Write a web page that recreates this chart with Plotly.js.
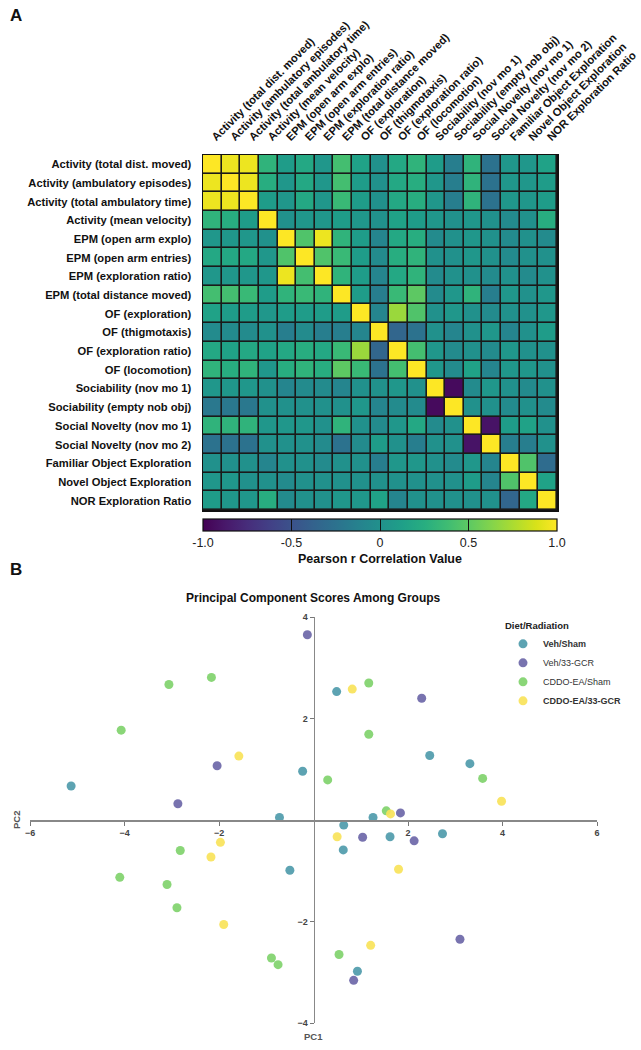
<!DOCTYPE html>
<html>
<head>
<meta charset="utf-8">
<script src="https://cdn.plot.ly/plotly-3.0.1.min.js"></script>
<style>
  html, body { margin: 0; padding: 0; background: #fff; }
  #chart { width: 641px; height: 1050px; }
</style>
</head>
<body>
<div id="chart"></div>
<script>
// behaviour measures (rows / columns of the correlation matrix)
const measures = [
    "Activity (total dist. moved)",
    "Activity (ambulatory episodes)",
    "Activity (total ambulatory time)",
    "Activity (mean velocity)",
    "EPM (open arm explo)",
    "EPM (open arm entries)",
    "EPM (exploration ratio)",
    "EPM (total distance moved)",
    "OF (exploration)",
    "OF (thigmotaxis)",
    "OF (exploration ratio)",
    "OF (locomotion)",
    "Sociability (nov mo 1)",
    "Sociability (empty nob obj)",
    "Social Novelty (nov mo 1)",
    "Social Novelty (nov mo 2)",
    "Familiar Object Exploration",
    "Novel Object Exploration",
    "NOR Exploration Ratio"
];

// Pearson r (row = y label, top to bottom)
const corrValues = [
    [1, 0.95, 0.95, 0.3, 0.1, 0.2, 0.05, 0.4, 0.15, 0.0, 0.2, 0.3, 0.1, -0.15, 0.3, -0.25, 0.05, 0.05, 0.15],
    [0.95, 1, 0.95, 0.25, 0.05, 0.2, 0.05, 0.4, 0.1, 0.0, 0.2, 0.25, 0.05, -0.15, 0.3, -0.25, 0.05, 0.05, 0.1],
    [0.95, 0.95, 1, 0.1, 0.05, 0.2, 0.05, 0.35, 0.1, 0.0, 0.2, 0.25, 0.05, -0.15, 0.3, -0.25, 0.05, 0.05, 0.1],
    [0.3, 0.25, 0.1, 1, 0.0, 0.05, 0.05, 0.1, 0.05, 0.0, 0.15, 0.1, 0.05, 0.0, 0.05, 0.0, -0.05, 0.0, 0.25],
    [0.05, 0.05, 0.05, 0.0, 1, 0.45, 0.95, 0.3, 0.1, -0.1, 0.2, 0.25, -0.05, 0.0, 0.05, 0.0, -0.05, 0.0, -0.05],
    [0.2, 0.2, 0.2, 0.05, 0.45, 1, 0.45, 0.35, 0.1, -0.05, 0.25, 0.3, 0.0, 0.0, 0.05, 0.0, -0.05, 0.0, 0.0],
    [0.05, 0.05, 0.05, 0.05, 0.95, 0.4, 1, 0.3, 0.1, -0.1, 0.2, 0.3, -0.05, 0.0, 0.0, -0.05, 0.0, -0.05, 0.0],
    [0.4, 0.4, 0.35, 0.1, 0.3, 0.35, 0.3, 1, 0.1, -0.15, 0.35, 0.5, -0.05, 0.05, 0.3, -0.15, 0.05, 0.0, 0.05],
    [0.15, 0.1, 0.1, 0.05, 0.1, 0.1, 0.1, 0.1, 1, -0.1, 0.7, 0.45, 0.0, 0.05, 0.0, -0.05, 0.0, 0.0, 0.05],
    [-0.05, -0.05, -0.05, 0.0, -0.15, -0.05, -0.15, -0.15, -0.1, 1, -0.35, -0.25, 0.0, -0.1, 0.0, 0.05, -0.1, 0.0, 0.1],
    [0.2, 0.15, 0.2, 0.15, 0.2, 0.25, 0.2, 0.35, 0.7, -0.35, 1, 0.4, 0.05, -0.05, 0.0, -0.05, 0.05, 0.0, 0.0],
    [0.3, 0.25, 0.3, 0.05, 0.25, 0.3, 0.25, 0.5, 0.35, -0.25, 0.4, 1, 0.05, -0.05, 0.15, -0.1, 0.05, 0.05, 0.0],
    [0.05, 0.05, 0.05, 0.0, -0.1, -0.05, -0.05, -0.1, 0.0, 0.0, 0.05, 0.0, 1, -0.95, -0.05, 0.05, 0.0, -0.05, 0.0],
    [-0.2, -0.2, -0.2, 0.0, 0.0, 0.0, 0.0, 0.0, 0.05, -0.1, -0.05, -0.05, -0.95, 1, 0.0, 0.0, -0.05, 0.0, -0.05],
    [0.3, 0.3, 0.3, 0.05, 0.05, 0.05, 0.0, 0.3, 0.0, -0.05, 0.05, 0.2, -0.05, 0.0, 1, -0.9, 0.1, 0.15, 0.0],
    [-0.25, -0.25, -0.25, 0.0, 0.0, 0.0, -0.05, -0.25, -0.05, 0.1, 0.0, -0.15, 0.0, 0.0, -0.9, 1, -0.15, -0.15, 0.0],
    [0.0, 0.0, 0.0, -0.1, 0.0, 0.0, -0.05, 0.0, 0.0, -0.15, 0.05, 0.05, 0.0, -0.05, 0.05, -0.1, 1, 0.45, -0.3],
    [0.05, 0.05, 0.0, 0.0, -0.05, 0.0, 0.0, 0.0, 0.0, 0.0, 0.0, 0.0, 0.0, 0.0, 0.1, -0.1, 0.45, 1, 0.15],
    [0.1, 0.05, 0.05, 0.25, -0.05, 0.0, 0.0, 0.05, 0.05, 0.15, -0.1, 0.0, 0.0, 0.0, 0.0, 0.0, -0.35, 0.2, 1]
];

const cbTicks = [-1, -0.5, 0, 0.5, 1];
const cbTickText = ["-1.0", "-0.5", "0", "0.5", "1.0"];

// PCA scores per group
const groupNames = ["Veh/Sham", "Veh/33-GCR", "CDDO-EA/Sham", "CDDO-EA/33-GCR"];

const vehShamPC1 = [-5.13, -0.72, -0.23, 0.49, 2.46, 3.31, 1.26, 0.64, 1.62, 2.73, 0.63, 0.93, -0.50];
const vehShamPC2 = [0.67, 0.05, 0.96, 2.53, 1.27, 1.11, 0.05, -0.10, -0.33, -0.27, -0.59, -2.98, -0.99];

const vehGcrPC1 = [-0.13, -2.04, -2.87, 2.29, 1.84, 1.04, 2.13, 3.10, 0.85];
const vehGcrPC2 = [3.65, 1.07, 0.32, 2.40, 0.14, -0.34, -0.41, -2.35, -3.16];

const cddoShamPC1 = [-3.06, -2.16, -4.07, 0.30, 1.17, 1.17, 3.58, 1.54, 0.54, -2.82, -4.10, -3.10, -2.89, -0.89, -0.75];
const cddoShamPC2 = [2.67, 2.81, 1.77, 0.79, 2.70, 1.69, 0.82, 0.18, -2.65, -0.60, -1.13, -1.27, -1.73, -2.72, -2.85];

const cddoGcrPC1 = [-1.58, 0.82, 3.98, 1.63, 0.50, 1.80, 1.21, -1.97, -2.17, -1.90];
const cddoGcrPC2 = [1.26, 2.58, 0.37, 0.12, -0.33, -0.97, -2.47, -0.44, -0.73, -2.06];

const pcTicksX = [-6, -4, -2, 2, 4, 6];
const pcTicksY = [-4, -2, 2, 4];

const groupColors = ["#4f9bab", "#6c67a8", "#80d26c", "#f9e35a"];
const FONT = "Arial, 'Liberation Sans', Helvetica, sans-serif";

const W = 641, H = 1050;
const px = v => v / W;
const py = v => 1 - v / H;

// heatmap box in pixels
const hmLeft = 203, hmRight = 557, hmTop = 155, hmBottom = 510;
// scatter box in pixels
const scLeft = 30, scRight = 597, scTop = 617, scBottom = 1023;

const heat = {
    type: "heatmap",
    x: measures,
    y: measures,
    z: corrValues,
    zmin: -1,
    zmax: 1,
    colorscale: "Viridis",
    xgap: 1.6,
    ygap: 1.6,
    hoverinfo: "skip",
    xaxis: "x",
    yaxis: "y",
    colorbar: {
        orientation: "h",
        x: px((hmLeft + hmRight) / 2),
        xanchor: "center",
        y: py(519),
        yanchor: "top",
        len: (hmRight - hmLeft) / W,
        lenmode: "fraction",
        thickness: 12,
        xpad: 0,
        ypad: 0,
        outlinewidth: 1.2,
        outlinecolor: "#111",
        ticks: "inside",
        ticklen: 12,
        tickwidth: 1,
        tickcolor: "#111",
        tickmode: "array",
        tickvals: cbTicks,
        ticktext: cbTickText,
        tickfont: { family: FONT, size: 12.5, color: "#222" },
        title: {
            text: "Pearson r Correlation Value",
            side: "bottom",
            font: { family: FONT, size: 12.5, color: "#111", weight: "bold" }
        }
    }
};

function group(i, xs, ys) {
    return {
        type: "scatter",
        mode: "markers",
        name: (i === 0 || i === 3) ? "<b>" + groupNames[i] + "</b>" : groupNames[i],
        x: xs,
        y: ys,
        xaxis: "x2",
        yaxis: "y2",
        marker: { size: 9, color: groupColors[i], opacity: 0.92 },
        hoverinfo: "skip"
    };
}

const traces = [
    heat,
    group(0, vehShamPC1, vehShamPC2),
    group(1, vehGcrPC1, vehGcrPC2),
    group(2, cddoShamPC1, cddoShamPC2),
    group(3, cddoGcrPC1, cddoGcrPC2)
];

const scYDom = [py(scBottom), py(scTop)];
const scXDom = [px(scLeft), px(scRight)];

const layout = {
    width: W,
    height: H,
    margin: { l: 0, r: 0, t: 0, b: 0 },
    paper_bgcolor: "#fff",
    plot_bgcolor: "rgba(0,0,0,0)",
    font: { family: FONT, color: "#111" },
    showlegend: true,
    xaxis: {
        domain: [px(hmLeft), px(hmRight)],
        anchor: "y",
        side: "top",
        type: "category",
        tickmode: "array",
        tickvals: measures,
        ticktext: measures,
        tickangle: -45,
        ticks: "",
        ticklabelstandoff: 6,
        tickfont: { family: FONT, size: 11.2, color: "#111", weight: "bold" },
        showgrid: false,
        zeroline: false,
        showline: true,
        mirror: true,
        linecolor: "#111",
        linewidth: 1.5
    },
    yaxis: {
        domain: [py(hmBottom), py(hmTop)],
        anchor: "x",
        type: "category",
        autorange: "reversed",
        tickmode: "array",
        tickvals: measures,
        ticktext: measures,
        ticks: "",
        ticklabelstandoff: 8,
        tickfont: { family: FONT, size: 11.2, color: "#111", weight: "bold" },
        showgrid: false,
        zeroline: false,
        showline: true,
        mirror: true,
        linecolor: "#111",
        linewidth: 1.5
    },
    xaxis2: {
        domain: scXDom,
        anchor: "free",
        position: (scYDom[0] + scYDom[1]) / 2,
        range: [-6, 6],
        tickmode: "array",
        tickvals: pcTicksX,
        ticks: "outside",
        ticklen: 4,
        tickcolor: "#777",
        tickfont: { family: FONT, size: 9, color: "#444", weight: "bold" },
        showgrid: false,
        zeroline: false,
        showline: true,
        linecolor: "#888",
        linewidth: 1.5
    },
    yaxis2: {
        domain: scYDom,
        anchor: "free",
        position: (scXDom[0] + scXDom[1]) / 2,
        range: [-4, 4],
        tickmode: "array",
        tickvals: pcTicksY,
        ticks: "outside",
        ticklen: 4,
        tickcolor: "#777",
        tickfont: { family: FONT, size: 9, color: "#444", weight: "bold" },
        showgrid: false,
        zeroline: false,
        showline: true,
        linecolor: "#888",
        linewidth: 1.5
    },
    legend: {
        x: px(503),
        y: py(617),
        xanchor: "left",
        yanchor: "top",
        bgcolor: "rgba(0,0,0,0)",
        itemsizing: "trace",
        itemwidth: 30,
        tracegroupgap: 0,
        font: { family: FONT, size: 9, color: "#333" },
        title: {
            text: "Diet/Radiation",
            side: "top",
            font: { family: FONT, size: 9.5, color: "#222", weight: "bold" }
        }
    },
    shapes: [{
        type: "rect",
        xref: "x",
        yref: "y",
        x0: -0.5,
        x1: measures.length - 0.5,
        y0: -0.5,
        y1: measures.length - 0.5,
        fillcolor: "#1a1a1a",
        line: { width: 0 },
        layer: "below"
    }],
    annotations: [
        {
            text: "<b>A</b>", xref: "paper", yref: "paper",
            x: px(8), y: py(4), xanchor: "left", yanchor: "top",
            showarrow: false, font: { family: FONT, size: 17, color: "#111" }
        },
        {
            text: "<b>B</b>", xref: "paper", yref: "paper",
            x: px(8), y: py(558), xanchor: "left", yanchor: "top",
            showarrow: false, font: { family: FONT, size: 17, color: "#111" }
        },
        {
            text: "<b>Principal Component Scores Among Groups</b>", xref: "paper", yref: "paper",
            x: px(313), y: py(598), xanchor: "center", yanchor: "middle",
            showarrow: false, font: { family: FONT, size: 12, color: "#111" }
        },
        {
            text: "<b>PC1</b>", xref: "paper", yref: "paper",
            x: px(313), y: py(1036), xanchor: "center", yanchor: "middle",
            showarrow: false, font: { family: FONT, size: 9.5, color: "#555" }
        },
        {
            text: "<b>PC2</b>", xref: "paper", yref: "paper",
            x: px(16), y: py(820), xanchor: "center", yanchor: "middle",
            textangle: -90,
            showarrow: false, font: { family: FONT, size: 9.5, color: "#555" }
        }
    ]
};

Plotly.newPlot("chart", traces, layout, { displayModeBar: false, staticPlot: true });
</script>
</body>
</html>
